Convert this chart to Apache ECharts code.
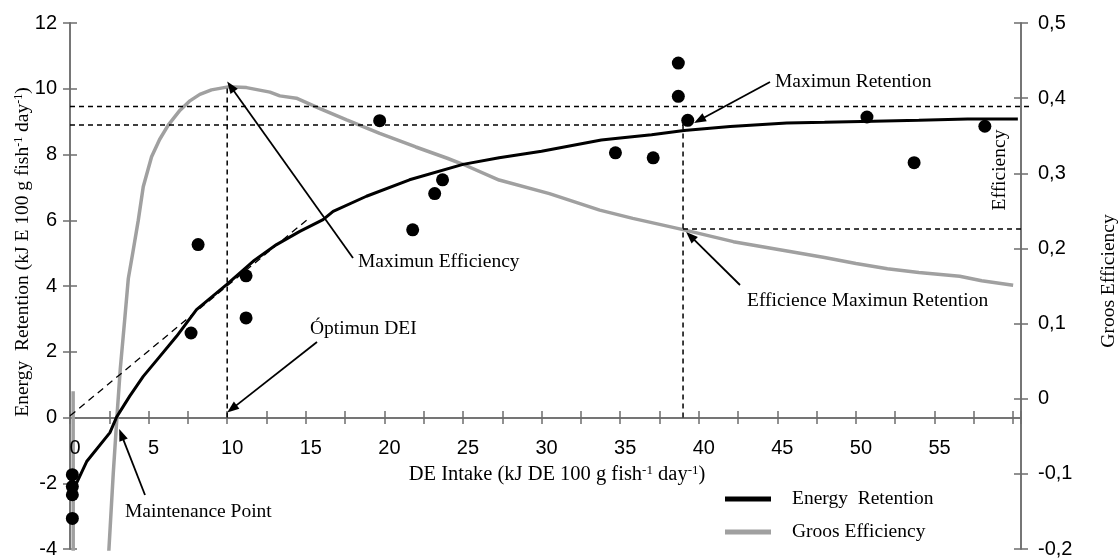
<!DOCTYPE html>
<html><head><meta charset="utf-8">
<script src="https://cdn.jsdelivr.net/npm/echarts@6/dist/echarts.min.js"></script>
<style>html,body{margin:0;padding:0;background:#fff}#c{width:1119px;height:558px}</style>
</head><body><div id="c"></div>
<script>
// ---------------- data ----------------
const xLabelValues = [0, 5, 10, 15, 20, 25, 30, 35, 40, 45, 50, 55];
const yLeftTicks = [-4, -2, 0, 2, 4, 6, 8, 10, 12];
const yRightTicks = [-0.2, -0.1, 0, 0.1, 0.2, 0.3, 0.4, 0.5];

const scatterX = [0.15, 0.15, 0.15, 0.15, 7.7, 8.15, 11.2, 11.2, 19.7, 21.8, 23.2, 23.7, 34.7, 37.1, 38.7, 38.7, 39.3, 50.7, 53.7, 58.2];
const scatterY = [-1.74, -2.1, -2.35, -3.07, 2.57, 5.26, 4.31, 3.03, 9.03, 5.71, 6.81, 7.23, 8.05, 7.9, 10.78, 9.77, 9.04, 9.14, 7.75, 8.86];

const retentionX = [0.17, 1.06, 2.54, 2.97, 3.8, 4.66, 5.72, 6.78, 8.05, 9.96, 11.65, 13.14, 14.62, 16.1, 16.74, 18.86, 21.6, 25, 27.3, 30, 33.8, 35, 37, 39.06, 42, 45.6, 48, 51.1, 54, 57.1, 60.3];
const retentionY = [-2.25, -1.34, -0.46, 0.02, 0.65, 1.25, 1.86, 2.47, 3.28, 4.04, 4.75, 5.26, 5.66, 6.02, 6.27, 6.73, 7.23, 7.7, 7.9, 8.1, 8.44, 8.5, 8.6, 8.73, 8.85, 8.96, 8.98, 9.01, 9.04, 9.08, 9.08];

const efficiencyX = [0.2, 0.22, 0.9, 2.45, 2.75, 3.0, 3.2, 3.5, 3.71, 4.0, 4.34, 4.66, 5.19, 5.7, 6.25, 7.0, 7.6, 8.26, 9.0, 10.06, 11.23, 12.72, 13.35, 14.4, 15.9, 17.6, 19.7, 22, 24, 25, 27.3, 30.5, 33.7, 35.8, 39, 42.2, 45.8, 48, 50, 52, 54, 56.6, 58, 60];
const efficiencyY = [0.01, -1.0, -1.0, -0.21, -0.1, -0.02, 0.04, 0.11, 0.16, 0.195, 0.237, 0.282, 0.322, 0.345, 0.364, 0.384, 0.396, 0.405, 0.411, 0.415, 0.414, 0.408, 0.403, 0.4, 0.386, 0.371, 0.353, 0.335, 0.32, 0.312, 0.291, 0.273, 0.251, 0.24, 0.225, 0.209, 0.196, 0.188, 0.18, 0.173, 0.168, 0.163, 0.157, 0.151];

const tangentX = [0, 15.3];
const tangentY = [0.05, 6.1];

// key values used by the reference lines
const optimumDEI = 10;
const maxEffPeak = 0.415;
const maxEffLevel = 0.389;
const maxRetDEI = 39;
const maxRetLevel = 8.9;
const effAtMaxRet = 0.226;
const xMax = 60.5;

// ---------------- chart ----------------
const SERIF = "'Liberation Serif','Times New Roman',serif";
const SANS = "'Liberation Sans',Arial,sans-serif";
const AX = {color: '#6e6e6e', width: 1.5};
const zip = (a, b) => a.map((v, i) => [v, b[i]]);
const fmtComma = v => String(+(+v).toFixed(1)).replace('.', ',');

const chart = echarts.init(document.getElementById('c'));

function xAx(inside) {
  return {
    type: 'value', min: 0, max: xMax, interval: 2.5, position: 'bottom',
    axisLine: {show: true, onZero: true, onZeroAxisIndex: 0, lineStyle: AX},
    axisTick: {show: true, inside: inside, length: 6.5, lineStyle: AX},
    splitLine: {show: false},
    axisLabel: {show: false}
  };
}
function yAx(pos, ticks, inside, labels, fmt) {
  return {
    type: 'value', position: pos, min: ticks[0], max: ticks[ticks.length - 1],
    interval: +(ticks[1] - ticks[0]).toFixed(3),
    axisLine: {show: true, onZero: false, lineStyle: AX},
    axisTick: {show: true, inside: inside, length: 7, lineStyle: AX},
    splitLine: {show: false},
    axisLabel: labels ? {show: true, margin: pos === 'left' ? 13 : 17, fontSize: 20, color: '#000', fontFamily: SANS, formatter: fmt} : {show: false}
  };
}

chart.setOption({
  animation: false,
  grid: {left: 70, right: 98, top: 23, bottom: 9, containLabel: false, outerBoundsMode: 'none'},
  xAxis: [xAx(false), xAx(true)],
  yAxis: [
    yAx('left', yLeftTicks, false, true, v => String(v)),
    yAx('right', yRightTicks, false, true, fmtComma),
    yAx('left', yLeftTicks, true, false),
    yAx('right', yRightTicks, true, false)
  ],
  legend: {
    orient: 'vertical', left: 720, top: 484, itemWidth: 46, itemHeight: 5, itemGap: 13,
    icon: 'rect', selectedMode: false,
    data: ['Energy  Retention', 'Groos Efficiency'],
    textStyle: {fontFamily: SERIF, fontSize: 19.5, color: '#000', padding: [0, 0, 0, 16]}
  },
  series: [
    {type: 'line', name: 'Groos Efficiency', yAxisIndex: 1, data: zip(efficiencyX, efficiencyY),
     symbol: 'none', color: '#a0a0a0', lineStyle: {color: '#a0a0a0', width: 3.5}, z: 1, silent: true},
    {type: 'line', name: 'tangent', data: zip(tangentX, tangentY), symbol: 'none',
     lineStyle: {color: '#000', width: 1.3, type: [7, 5]}, z: 2, silent: true},
    {type: 'line', name: 'Energy  Retention', data: zip(retentionX, retentionY), symbol: 'none',
     color: '#000', lineStyle: {color: '#000', width: 3}, z: 3, silent: true},
    {type: 'scatter', name: 'obs', data: zip(scatterX, scatterY), symbolSize: 13,
     itemStyle: {color: '#000', opacity: 1, borderWidth: 0}, z: 4, silent: true}
  ]
});

// ---------------- annotations ----------------
const L = (x, y) => chart.convertToPixel({xAxisIndex: 0, yAxisIndex: 0}, [x, y]);
const R = (x, v) => chart.convertToPixel({xAxisIndex: 0, yAxisIndex: 1}, [x, v]);
const g = [];
function dash(p1, p2) {
  g.push({type: 'line', shape: {x1: p1[0], y1: p1[1], x2: p2[0], y2: p2[1]},
          style: {stroke: '#000', lineWidth: 1.5, lineDash: [5, 4]}, z: 10});
}
function arrow(tail, head) {
  const dx = head[0] - tail[0], dy = head[1] - tail[1], len = Math.hypot(dx, dy);
  const ux = dx / len, uy = dy / len, hl = 12, hw = 4.5;
  const bx = head[0] - ux * hl, by = head[1] - uy * hl;
  g.push({type: 'line', shape: {x1: tail[0], y1: tail[1], x2: bx + ux * 2, y2: by + uy * 2},
          style: {stroke: '#000', lineWidth: 1.8}, z: 11});
  g.push({type: 'polygon', shape: {points: [head, [bx - uy * hw, by + ux * hw], [bx + uy * hw, by - ux * hw]]},
          style: {fill: '#000'}, z: 11});
}
function txt(s, x, y, opts) {
  g.push(Object.assign({type: 'text', x: x, y: y, z: 12,
    style: {text: s, fontFamily: SERIF, fontSize: 19.5, fill: '#000', align: 'left', verticalAlign: 'middle'}}, opts || {}));
}

dash(L(optimumDEI, 0), R(optimumDEI, maxEffPeak));
dash(R(0, maxEffLevel), R(61.2, maxEffLevel));
dash(L(0, maxRetLevel), L(maxRetDEI, maxRetLevel));
dash(L(maxRetDEI, 0), L(maxRetDEI, maxRetLevel));
dash(R(maxRetDEI, effAtMaxRet), R(60.6, effAtMaxRet));

arrow([353, 258], R(optimumDEI, 0.422));
txt('Maximun Efficiency', 358, 262);
arrow([317, 342], L(optimumDEI, 0.15));
txt('Óptimun DEI', 310, 329);
arrow([145, 495], L(3.13, -0.35));
txt('Maintenance Point', 125, 512);
arrow([770, 82], L(39.7, 8.96));
txt('Maximun Retention', 775, 82);
arrow([740, 285], R(39.2, 0.222));
txt('Efficience Maximun Retention', 747, 301);

const richT = {
  n: {fontFamily: SERIF, fontSize: 19.5, fill: '#000'},
  s: {fontFamily: SERIF, fontSize: 12, fill: '#000', verticalAlign: 'top'}
};
const richX = {
  n: {fontFamily: SERIF, fontSize: 20.5, fill: '#000'},
  s: {fontFamily: SERIF, fontSize: 13, fill: '#000', verticalAlign: 'top'}
};
g.push({type: 'text', x: 23, y: 252, rotation: Math.PI / 2, z: 12,
  style: {text: '{n|Energy  Retention (kJ E 100 g fish}{s|-1}{n| day}{s|-1}{n|)}', rich: richT,
          align: 'center', verticalAlign: 'middle'}});
g.push({type: 'text', x: 557, y: 475, z: 12,
  style: {text: '{n|DE Intake (kJ DE 100 g fish}{s|-1}{n| day}{s|-1}{n|)}', rich: richX,
          align: 'center', verticalAlign: 'middle'}});
g.push({type: 'text', x: 1000, y: 170, rotation: Math.PI / 2, z: 12,
  style: {text: 'Efficiency', fontFamily: SERIF, fontSize: 19.5, fill: '#000', align: 'center', verticalAlign: 'middle'}});
g.push({type: 'text', x: 1109, y: 281, rotation: Math.PI / 2, z: 12,
  style: {text: 'Groos Efficiency', fontFamily: SERIF, fontSize: 19.5, fill: '#000', align: 'center', verticalAlign: 'middle'}});

// x tick labels placed from the x scale, under the axis line that sits at y = 0
xLabelValues.forEach(v => {
  const p = L(v, 0);
  g.push({type: 'text', x: p[0] + 5, y: p[1] + 31, z: 12,
    style: {text: String(v), fontFamily: SANS, fontSize: 20, fill: '#000', align: 'center', verticalAlign: 'middle'}});
});

chart.setOption({graphic: g});
</script></body></html>
